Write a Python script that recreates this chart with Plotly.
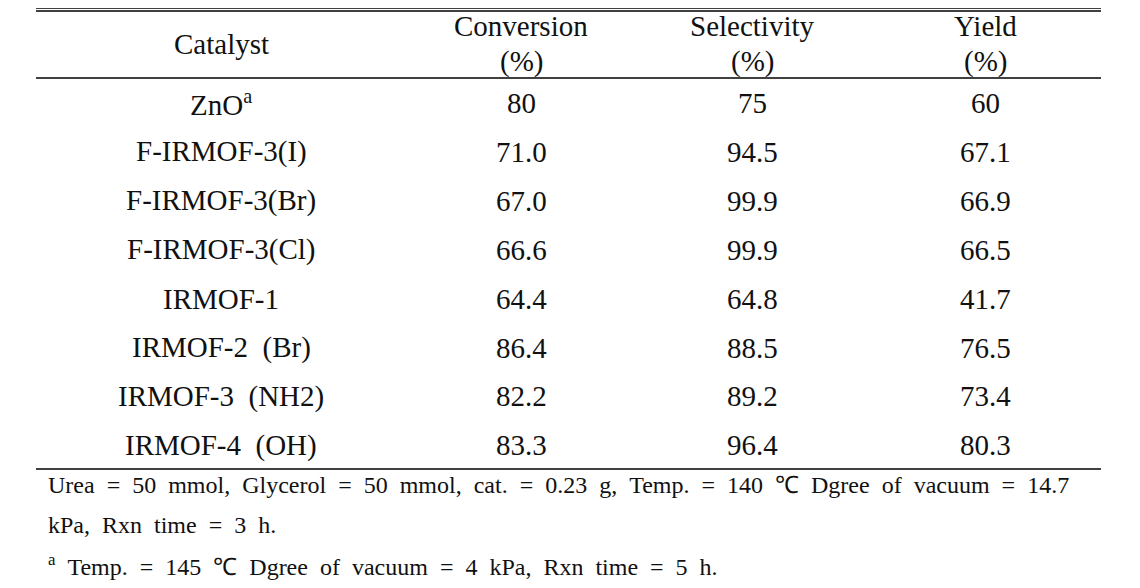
import plotly.graph_objects as go

NB = "\u00a0"
catalysts = ["ZnO<sup>a</sup>", "F-IRMOF-3(I)", "F-IRMOF-3(Br)", "F-IRMOF-3(Cl)",
             "IRMOF-1", "IRMOF-2 (Br)", "IRMOF-3 (NH2)", "IRMOF-4 (OH)"]
conversion = ["80", "71.0", "67.0", "66.6", "64.4", "86.4", "82.2", "83.3"]
selectivity = ["75", "94.5", "99.9", "99.9", "64.8", "88.5", "89.2", "96.4"]
yield_ = ["60", "67.1", "66.9", "66.5", "41.7", "76.5", "73.4", "80.3"]
headers = ["Catalyst", "Conversion", "Selectivity", "Yield"]
header_units = ["", "(%)", "(%)", "(%)"]
footnote1 = ["Urea = 50 mmol, Glycerol = 50 mmol, cat. = 0.23 g, Temp. = 140 ℃ Dgree of vacuum = 14.7",
             "kPa, Rxn time = 3 h."]
footnote2 = "Temp. = 145 ℃ Dgree of vacuum = 4 kPa, Rxn time = 5 h."

FONT = "Liberation Serif"
COLOR = "#111111"
OFF = 8  # page body margin
col_x = [221, 521, 752, 985]
row_y0, row_dy = 103, 48.9
fs = 29
ffs = 24


def wide(s, n=2, extra=""):
    return s.replace(" ", NB * n + extra)


fig = go.Figure()
fig.add_trace(go.Scatter(x=[100, 1000], y=[100, 500], mode="markers",
                         marker=dict(opacity=0), hoverinfo="skip", showlegend=False))

ann = []
for i, h in enumerate(headers):
    if header_units[i]:
        ann.append(dict(x=col_x[i], y=26, text=h, showarrow=False, xanchor="center", yanchor="middle",
                        font=dict(family=FONT, size=fs, color=COLOR)))
        ann.append(dict(x=col_x[i], y=61, text=header_units[i], showarrow=False, xanchor="center",
                        yanchor="middle", font=dict(family=FONT, size=fs, color=COLOR)))
    else:
        ann.append(dict(x=col_x[i], y=44, text=h, showarrow=False, xanchor="center", yanchor="middle",
                        font=dict(family=FONT, size=fs, color=COLOR)))
cols = [catalysts, conversion, selectivity, yield_]
for r in range(len(catalysts)):
    y = row_y0 + r * row_dy
    for c in range(4):
        t = cols[c][r]
        if c == 0:
            t = wide(t, 2)
        ann.append(dict(x=col_x[c], y=y, text=t, showarrow=False,
                        xanchor="center", yanchor="middle",
                        font=dict(family=FONT, size=fs, color=COLOR)))
ann.append(dict(x=46, y=485, text=wide(footnote1[0], 2), showarrow=False,
                xanchor="left", yanchor="middle", font=dict(family=FONT, size=ffs, color=COLOR)))
ann.append(dict(x=46, y=525, text=wide(footnote1[1], 2), showarrow=False,
                xanchor="left", yanchor="middle", font=dict(family=FONT, size=ffs, color=COLOR)))
ann.append(dict(x=46, y=565, text="<sup>a</sup>" + NB * 2 + wide(footnote2, 2), showarrow=False,
                xanchor="left", yanchor="middle", font=dict(family=FONT, size=ffs, color=COLOR)))

shapes = []
for yy in [8, 11, 78, 469]:
    shapes.append(dict(type="line", x0=36, x1=1101, y0=yy, y1=yy,
                       line=dict(color="black", width=1.3)))

fig.update_layout(width=1140, height=588, margin=dict(l=0, r=0, t=0, b=0),
                  paper_bgcolor="white", plot_bgcolor="white",
                  xaxis=dict(range=[OFF, 1140 + OFF], visible=False, fixedrange=True),
                  yaxis=dict(range=[588 + OFF, OFF], visible=False, fixedrange=True),
                  annotations=ann, shapes=shapes)
fig.write_html("out.html")
